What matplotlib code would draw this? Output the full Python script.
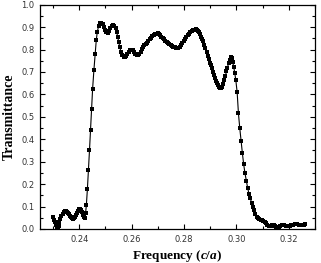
import matplotlib
matplotlib.use("Agg")
import matplotlib.pyplot as plt
from matplotlib.ticker import MultipleLocator, FormatStrFormatter

plt.rcParams['mathtext.fontset'] = 'custom'
plt.rcParams['mathtext.it'] = 'Liberation Serif:italic:bold'
plt.rcParams['mathtext.rm'] = 'Liberation Serif:bold'

# frequency (c/a) and transmittance
freq = [
    0.2298, 0.2302, 0.2306, 0.2310, 0.2314, 0.2318, 0.2321, 0.2324, 0.2328, 0.2332,
    0.2336, 0.2340, 0.2344, 0.2348, 0.2352, 0.2356, 0.2360, 0.2364, 0.2368, 0.2372,
    0.2376, 0.2380, 0.2384, 0.2388, 0.2392, 0.2396, 0.2400, 0.2404, 0.2408, 0.2412,
    0.2415, 0.2418, 0.2421, 0.2424, 0.2427, 0.2431, 0.2435, 0.2439, 0.2443, 0.2447,
    0.2451, 0.2456, 0.2461, 0.2465, 0.2469, 0.2474, 0.2479, 0.2484, 0.2489, 0.2494,
    0.2499, 0.2504, 0.2509, 0.2514, 0.2519, 0.2524, 0.2529, 0.2534, 0.2539, 0.2543,
    0.2547, 0.2551, 0.2555, 0.2559, 0.2564, 0.2569, 0.2574, 0.2579, 0.2584, 0.2589,
    0.2594, 0.2599, 0.2604, 0.2609, 0.2614, 0.2619, 0.2624, 0.2629, 0.2634, 0.2639,
    0.2644, 0.2649, 0.2654, 0.2659, 0.2664, 0.2669, 0.2674, 0.2679, 0.2684, 0.2689,
    0.2694, 0.2699, 0.2704, 0.2709, 0.2714, 0.2719, 0.2724, 0.2729, 0.2734, 0.2739,
    0.2744, 0.2749, 0.2754, 0.2759, 0.2764, 0.2769, 0.2774, 0.2779, 0.2784, 0.2789,
    0.2794, 0.2799, 0.2804, 0.2809, 0.2814, 0.2819, 0.2824, 0.2829, 0.2834, 0.2839,
    0.2844, 0.2849, 0.2854, 0.2858, 0.2862, 0.2866, 0.2870, 0.2874, 0.2878, 0.2882,
    0.2886, 0.2890, 0.2894, 0.2898, 0.2902, 0.2906, 0.2910, 0.2914, 0.2918, 0.2922,
    0.2926, 0.2930, 0.2934, 0.2938, 0.2942, 0.2946, 0.2950, 0.2954, 0.2958, 0.2962,
    0.2966, 0.2970, 0.2974, 0.2978, 0.2982, 0.2986, 0.2990, 0.2994, 0.2998, 0.3003,
    0.3008, 0.3013, 0.3018, 0.3023, 0.3028, 0.3033, 0.3038, 0.3043, 0.3048, 0.3053,
    0.3058, 0.3063, 0.3068, 0.3073, 0.3078, 0.3083, 0.3088, 0.3093, 0.3098, 0.3103,
    0.3108, 0.3113, 0.3118, 0.3123, 0.3128, 0.3133, 0.3138, 0.3143, 0.3148, 0.3153,
    0.3158, 0.3163, 0.3168, 0.3173, 0.3178, 0.3183, 0.3188, 0.3193, 0.3198, 0.3203,
    0.3208, 0.3213, 0.3218, 0.3223, 0.3228, 0.3233, 0.3238, 0.3243, 0.3248, 0.3253,
    0.3258, 0.3262,
]
trans = [
    0.055, 0.042, 0.030, 0.018, 0.008, 0.004, 0.015, 0.030, 0.045, 0.058,
    0.068, 0.076, 0.080, 0.080, 0.077, 0.072, 0.065, 0.058, 0.052, 0.047,
    0.045, 0.047, 0.053, 0.062, 0.072, 0.081, 0.087, 0.089, 0.085, 0.075,
    0.062, 0.052, 0.048, 0.070, 0.105, 0.177, 0.262, 0.350, 0.442, 0.535,
    0.626, 0.710, 0.782, 0.843, 0.880, 0.905, 0.917, 0.920, 0.915, 0.902,
    0.888, 0.878, 0.876, 0.882, 0.894, 0.905, 0.910, 0.907, 0.896, 0.878,
    0.855, 0.832, 0.810, 0.790, 0.775, 0.766, 0.765, 0.770, 0.780, 0.790,
    0.798, 0.800, 0.796, 0.789, 0.781, 0.776, 0.775, 0.780, 0.790, 0.802,
    0.812, 0.820, 0.826, 0.831, 0.837, 0.845, 0.853, 0.861, 0.866, 0.870,
    0.871, 0.872, 0.869, 0.864, 0.858, 0.851, 0.845, 0.839, 0.833, 0.828,
    0.824, 0.820, 0.817, 0.813, 0.810, 0.807, 0.806, 0.808, 0.813, 0.820,
    0.830, 0.838, 0.846, 0.855, 0.863, 0.871, 0.878, 0.883, 0.887, 0.889,
    0.890, 0.888, 0.884, 0.878, 0.868, 0.857, 0.846, 0.836, 0.822, 0.805,
    0.788, 0.772, 0.757, 0.742, 0.730, 0.716, 0.702, 0.688, 0.675, 0.662,
    0.652, 0.642, 0.634, 0.629, 0.628, 0.632, 0.645, 0.664, 0.684, 0.703,
    0.720, 0.738, 0.755, 0.765, 0.762, 0.745, 0.722, 0.695, 0.663, 0.610,
    0.515, 0.450, 0.393, 0.338, 0.288, 0.248, 0.215, 0.184, 0.158, 0.137,
    0.118, 0.099, 0.083, 0.067, 0.055, 0.048, 0.044, 0.041, 0.039, 0.036,
    0.031, 0.025, 0.019, 0.015, 0.012, 0.013, 0.016, 0.017, 0.014, 0.010,
    0.009, 0.010, 0.013, 0.016, 0.018, 0.016, 0.013, 0.012, 0.013, 0.015,
    0.017, 0.018, 0.020, 0.022, 0.023, 0.021, 0.018, 0.016, 0.016, 0.018,
    0.020, 0.021,
]

fig = plt.figure(figsize=(3.21, 2.63), dpi=100)
ax = fig.add_axes([0.1246, 0.1293, 0.8564, 0.8528])
ax.plot(freq, trans, color='black', lw=0.8, marker='s', ms=2.3,
        markeredgewidth=0, markerfacecolor='black')

ax.set_xlim(0.225, 0.33)
ax.set_ylim(0.0, 1.0)
ax.xaxis.set_major_locator(MultipleLocator(0.02))
ax.xaxis.set_minor_locator(MultipleLocator(0.01))
ax.yaxis.set_major_locator(MultipleLocator(0.1))
ax.yaxis.set_minor_locator(MultipleLocator(0.05))
ax.xaxis.set_major_formatter(FormatStrFormatter('%.2f'))
ax.yaxis.set_major_formatter(FormatStrFormatter('%.1f'))

ax.tick_params(which='both', direction='in', top=True, right=True,
               labelsize=6, labelcolor='#333333', width=0.8, pad=4)
ax.tick_params(which='major', length=3.5)
ax.tick_params(which='minor', length=2)
for s in ax.spines.values():
    s.set_linewidth(0.9)

ax.set_xlabel(r'Frequency ($\mathit{c/a}$)', family='Liberation Serif',
              fontweight='bold', fontsize=9.5, labelpad=3)
ax.set_ylabel('Transmittance', family='Liberation Serif',
              fontweight='bold', fontsize=10, labelpad=4)

fig.savefig('out.png', dpi=100, facecolor='white')
